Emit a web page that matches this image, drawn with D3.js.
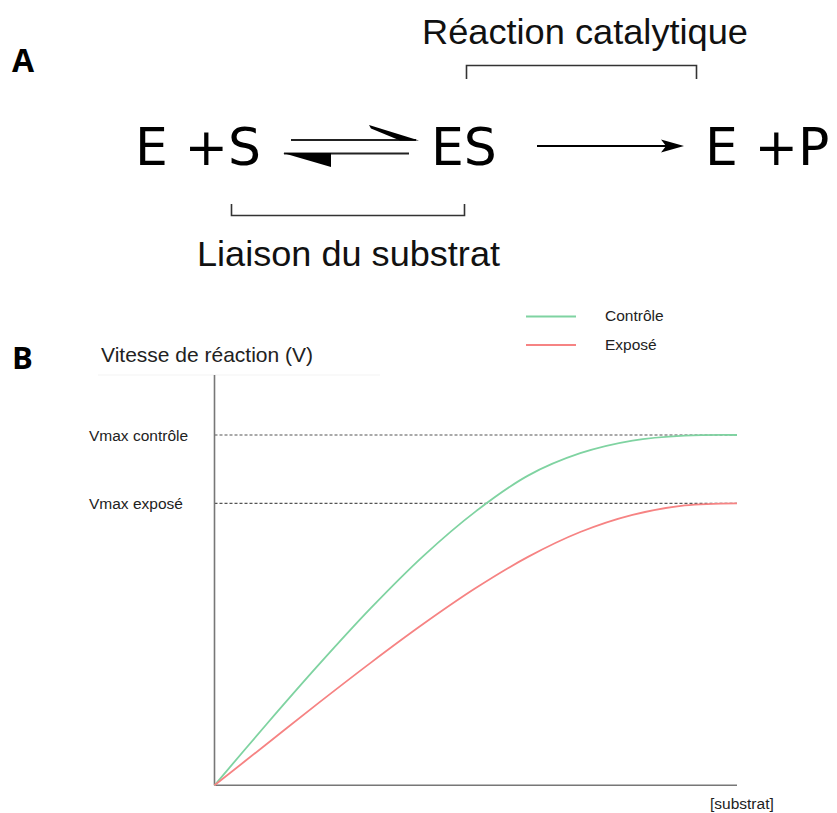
<!DOCTYPE html>
<html>
<head>
<meta charset="utf-8">
<script src="https://cdn.jsdelivr.net/npm/d3@7"></script>
<style>
  html, body { margin: 0; padding: 0; background: #fff; }
  svg { display: block; }
</style>
</head>
<body>
<div id="chart"></div>
<script>
// ---- Data ----
const substrat = [0, 1, 2, 3, 4, 5, 6, 7, 8, 9, 10];
const controle = [0, 0.175, 0.345, 0.507, 0.655, 0.782, 0.884, 0.948, 0.984, 0.998, 1.0];
const expose   = [0, 0.118, 0.236, 0.351, 0.461, 0.563, 0.652, 0.723, 0.772, 0.799, 0.805];
const vmaxLabels = ["Vmax contrôle", "Vmax exposé"];
const vmaxValues = [1.0, 0.805];
const seriesNames = ["Contrôle", "Exposé"];
const seriesColors = ["#7fd3a1", "#f68383"];

const W = 837, H = 813;
const svg = d3.select("#chart").append("svg").attr("width", W).attr("height", H);
svg.append("rect").attr("width", W).attr("height", H).attr("fill", "#fff");

// ---- Panel A : reaction scheme ----
svg.append("text").attr("x", 12).attr("y", 72)
  .attr("font-family", "Open Sans, sans-serif").attr("font-weight", "bold")
  .attr("font-size", 32).attr("fill", "#000").text("A");

svg.append("text").attr("x", 422).attr("y", 44)
  .attr("font-family", "Liberation Sans, Arial, sans-serif")
  .attr("font-size", 35).attr("fill", "#111")
  .attr("textLength", 326).attr("lengthAdjust", "spacingAndGlyphs")
  .text("Réaction catalytique");

const bracketStyle = g => g.attr("fill", "none").attr("stroke", "#333").attr("stroke-width", 1.6);
svg.append("path").call(bracketStyle).attr("d", "M466.5,79 V65.5 H696.5 V79");
svg.append("path").call(bracketStyle).attr("d", "M231.5,204 V215.5 H464.5 V204");

const eqFont = "DejaVu Sans, sans-serif";
[["E +S", 135], ["ES", 431], ["E +P", 705]].forEach(([t, x]) => {
  svg.append("text").attr("x", x).attr("y", 165)
    .attr("font-family", eqFont).attr("font-size", 52).attr("fill", "#000").text(t);
});

// equilibrium harpoons
svg.append("line").attr("x1", 291).attr("x2", 416).attr("y1", 140).attr("y2", 140)
  .attr("stroke", "#222").attr("stroke-width", 1.8);
svg.append("polygon").attr("points", "369,125 419,140.5 400,140.5 371,128.5").attr("fill", "#000");
svg.append("line").attr("x1", 284).attr("x2", 409).attr("y1", 153.5).attr("y2", 153.5)
  .attr("stroke", "#222").attr("stroke-width", 1.8);
svg.append("polygon").attr("points", "283,153 331,153 331,167").attr("fill", "#000");

// right arrow
svg.append("line").attr("x1", 537).attr("x2", 670).attr("y1", 146).attr("y2", 146)
  .attr("stroke", "#000").attr("stroke-width", 1.8);
svg.append("polygon").attr("points", "684,146 661,139.5 666,146 661,152.5").attr("fill", "#000");

svg.append("text").attr("x", 197).attr("y", 266)
  .attr("font-family", "Liberation Sans, Arial, sans-serif")
  .attr("font-size", 35).attr("fill", "#111")
  .attr("textLength", 303).attr("lengthAdjust", "spacingAndGlyphs")
  .text("Liaison du substrat");

// ---- Panel B : kinetics chart ----
svg.append("text").attr("x", 12).attr("y", 369)
  .attr("font-family", "Open Sans, sans-serif").attr("font-weight", "bold")
  .attr("font-size", 31).attr("fill", "#000").text("B");

const x = d3.scaleLinear().domain([0, 10]).range([214.5, 737]);
const y = d3.scaleLinear().domain([0, 1]).range([785.3, 435]);

const lblFont = "Liberation Sans, Arial, sans-serif";

svg.append("text").attr("x", 101).attr("y", 361.5)
  .attr("font-family", lblFont).attr("font-size", 21).attr("fill", "#222")
  .text("Vitesse de réaction (V)");
svg.append("line").attr("x1", 98).attr("x2", 380).attr("y1", 375).attr("y2", 375)
  .attr("stroke", "#f3f3f3").attr("stroke-width", 1);

// dashed Vmax lines & labels
vmaxValues.forEach((v, i) => {
  svg.append("line").attr("x1", x(0)).attr("x2", x(10)).attr("y1", y(v)).attr("y2", y(v))
    .attr("stroke", "#555").attr("stroke-width", 1.2).attr("stroke-dasharray", "3,2");
  svg.append("text").attr("x", 89).attr("y", y(v) + 5.5)
    .attr("font-family", lblFont).attr("font-size", 15.5).attr("fill", "#222")
    .text(vmaxLabels[i]);
});

// axes
svg.append("line").attr("x1", x(0)).attr("x2", x(0)).attr("y1", 375).attr("y2", y(0))
  .attr("stroke", "#777").attr("stroke-width", 1.6);
svg.append("line").attr("x1", x(0)).attr("x2", x(10)).attr("y1", y(0)).attr("y2", y(0))
  .attr("stroke", "#777").attr("stroke-width", 1.6);

svg.append("text").attr("x", 710).attr("y", 809)
  .attr("font-family", lblFont).attr("font-size", 15.5).attr("fill", "#222")
  .text("[substrat]");

// curves
const line = d3.line().x(d => x(d[0])).y(d => y(d[1])).curve(d3.curveCatmullRom.alpha(0.5));
[controle, expose].forEach((vals, i) => {
  svg.append("path").datum(substrat.map((s, j) => [s, vals[j]]))
    .attr("d", line).attr("fill", "none")
    .attr("stroke", seriesColors[i]).attr("stroke-width", 1.8);
});

// legend
seriesNames.forEach((n, i) => {
  const ly = 316.5 + i * 28.5;
  svg.append("line").attr("x1", 526).attr("x2", 576).attr("y1", ly).attr("y2", ly)
    .attr("stroke", seriesColors[i]).attr("stroke-width", 1.8);
  svg.append("text").attr("x", 605).attr("y", ly + 4.5)
    .attr("font-family", lblFont).attr("font-size", 15.5).attr("fill", "#222")
    .text(n);
});
</script>
</body>
</html>
